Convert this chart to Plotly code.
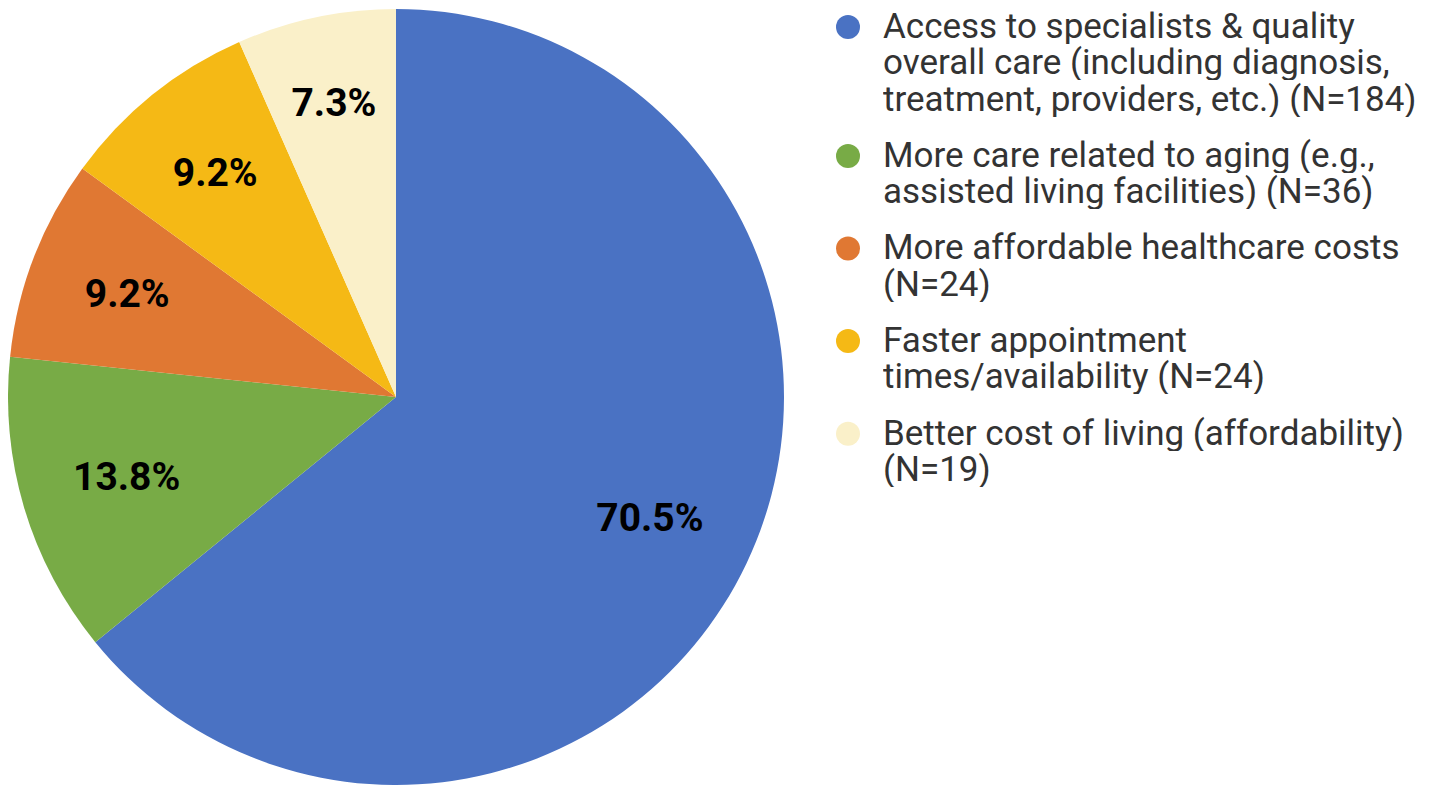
import plotly.graph_objects as go

categories = [
    "Access to specialists & quality<br>overall care (including diagnosis,<br>treatment, providers, etc.) (N=184)",
    "More care related to aging (e.g.,<br>assisted living facilities) (N=36)",
    "More affordable healthcare costs<br>(N=24)",
    "Faster appointment<br>times/availability (N=24)",
    "Better cost of living (affordability)<br>(N=19)",
]
counts = [184, 36, 24, 24, 19]
pct_labels = ["70.5%", "13.8%", "9.2%", "9.2%", "7.3%"]
colors = ["#4A72C3", "#78AB46", "#E07833", "#F5B915", "#FAF0C9"]

W, H = 1440, 789
OFF = 8  # page body margin offset
flat_labels = [c.replace("<br>", " ") for c in categories]

fig = go.Figure()
# coloured slices
fig.add_trace(go.Pie(
    labels=flat_labels,
    values=counts,
    textinfo="none",
    marker=dict(colors=colors, line=dict(width=0)),
    sort=False,
    direction="clockwise",
    rotation=0,
    showlegend=False,
    domain=dict(x=[0, 776 / W], y=[11 / H, 1]),
    hoverinfo="label+value",
))
# percentage labels: same slices, transparent, slightly smaller ring so that
# labels sit at the same radial position as in the reference
fig.add_trace(go.Pie(
    labels=flat_labels,
    values=counts,
    customdata=pct_labels,
    texttemplate="%{customdata}",
    textposition="inside",
    insidetextorientation="horizontal",
    textfont=dict(family="Roboto", size=39, color="#000000", weight="bold"),
    marker=dict(colors=["rgba(0,0,0,0)"] * len(counts), line=dict(width=0)),
    hole=0.55,
    sort=False,
    direction="clockwise",
    rotation=0,
    showlegend=False,
    domain=dict(x=[0, 776 / W], y=[1 - 751.7 / H, 1 - 26.3 / H]),
    hoverinfo="skip",
))

# manual legend (circle swatches + text lines)
LEG_FONT = 35
line_step = 36.3
item_gap = 20.0
text_x = (882 - OFF) / W
dot_x = (848 - OFF) / W
cap_mid = 26.0  # screen y of first line's cap middle
annotations = []
shapes = []
for cat, col in zip(categories, colors):
    lines = cat.split("<br>")
    shapes.append(dict(
        type="circle", xref="paper", yref="paper",
        xsizemode="pixel", ysizemode="pixel",
        xanchor=dot_x, yanchor=1 - (cap_mid + 1 - OFF) / H,
        x0=-12, x1=12, y0=-12, y1=12,
        fillcolor=col, line=dict(width=0),
    ))
    for i, ln in enumerate(lines):
        c = cap_mid + i * line_step
        annotations.append(dict(
            text=ln, xref="paper", yref="paper",
            x=text_x, y=1 - (c - OFF) / H,
            xanchor="left", yanchor="middle", showarrow=False,
            height=36, valign="middle", borderpad=0,
            font=dict(family="Roboto", size=LEG_FONT, color="#333333"),
        ))
    cap_mid += len(lines) * line_step + item_gap

fig.update_layout(
    width=W, height=H,
    margin=dict(l=0, r=0, t=0, b=0),
    paper_bgcolor="white", plot_bgcolor="white",
    showlegend=False,
    annotations=annotations,
    shapes=shapes,
)

fig.write_html("out.html")
